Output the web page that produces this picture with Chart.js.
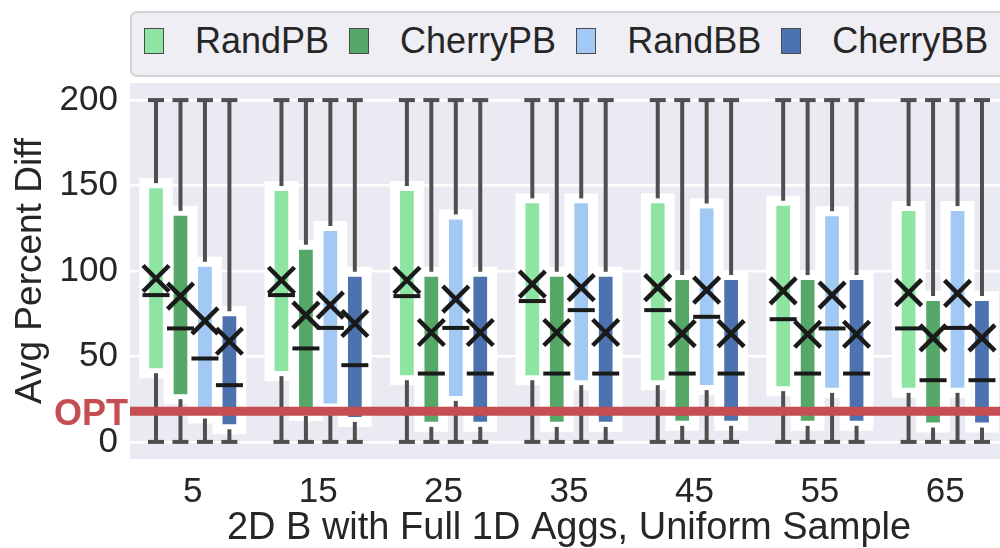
<!DOCTYPE html>
<html>
<head>
<meta charset="utf-8">
<script src="https://cdn.jsdelivr.net/npm/chart.js@4.4.1/dist/chart.umd.min.js"></script>
<style>
  html, body { margin: 0; padding: 0; background: #fff; overflow: hidden; width: 1000px; height: 548px; }
  #wrap { position: relative; width: 1010px; height: 548px; }
  #c { position: absolute; left: 0; top: 0; }
  #legend {
    position: absolute; left: 130px; top: 11px; width: 890px; height: 66px;
    box-sizing: border-box; border: 2px solid #d3d3d6; border-radius: 7px;
    background: #eeeef4; padding: 15px 0 0 12px;
    font: 36px "Liberation Sans", Arial, sans-serif; color: #262626;
    display: flex; align-items: flex-start;
  }
  .item { display: flex; align-items: center; height: 26px; }
  .sw { width: 20px; height: 26px; box-sizing: border-box; border: 1.5px solid #4a4a4a; margin-right: 31px; }
  .lbl { margin-right: 20px; line-height: 26px; white-space: nowrap; }
</style>
</head>
<body>
<div id="wrap">
  <canvas id="c" width="1010" height="548"></canvas>
  <div id="legend"></div>
</div>
<script>
// Category labels (number of buckets) and y tick values
const categories = ['5', '15', '25', '35', '45', '55', '65'];
const yTicks = [0, 50, 100, 150, 200];
const OPT = 18;

const seriesNames = ['RandPB', 'CherryPB', 'RandBB', 'CherryBB'];
const seriesColors = ['#8de5a1', '#55a868', '#a1c9f4', '#4c72b0'];

// RandPB
const randPB_min    = [0, 0, 0, 0, 0, 0, 0];
const randPB_q1     = [40.2, 38.5, 36.1, 36.1, 33.2, 29.7, 28.7];
const randPB_median = [85.9, 85.9, 85.3, 82.4, 77.1, 71.8, 66.4];
const randPB_q3     = [151.4, 149.7, 149.7, 142.5, 142.5, 141.1, 138.0];
const randPB_max    = [200, 200, 200, 200, 200, 200, 200];
const randPB_mean   = [95.6, 94.6, 94.6, 92.3, 90.3, 88.4, 87.4];

// CherryPB
const cherryPB_min    = [0, 0, 0, 0, 0, 0, 0];
const cherryPB_q1     = [25.0, 15.2, 8.8, 8.8, 9.4, 9.4, 8.4];
const cherryPB_median = [66.4, 54.7, 40.0, 40.0, 40.0, 40.0, 36.1];
const cherryPB_q3     = [135.2, 115.3, 99.5, 99.5, 97.6, 97.6, 85.3];
const cherryPB_max    = [200, 200, 200, 200, 200, 200, 200];
const cherryPB_mean   = [85.3, 74.2, 64.0, 64.0, 63.4, 63.0, 60.9];

// RandBB
const randBB_min    = [0, 0, 0, 0, 0, 0, 0];
const randBB_q1     = [13.7, 19.5, 24.0, 33.2, 30.3, 28.7, 28.7];
const randBB_median = [48.8, 66.7, 66.7, 77.1, 73.2, 66.4, 66.7];
const randBB_q3     = [105.4, 126.3, 133.1, 142.5, 139.5, 135.0, 138.0];
const randBB_max    = [200, 200, 200, 200, 200, 200, 200];
const randBB_mean   = [70.8, 80.0, 83.5, 90.3, 88.8, 85.9, 86.9];

// CherryBB
const cherryBB_min    = [0, 0, 0, 0, 0, 0, 0];
const cherryBB_q1     = [7.4, 11.7, 8.8, 8.8, 9.4, 9.4, 8.4];
const cherryBB_median = [33.2, 44.9, 40.0, 40.0, 40.0, 40.0, 36.1];
const cherryBB_q3     = [76.5, 99.5, 99.5, 99.5, 97.6, 97.6, 85.3];
const cherryBB_max    = [200, 200, 200, 200, 200, 200, 200];
const cherryBB_mean   = [58.9, 69.3, 64.0, 64.0, 63.4, 63.0, 60.9];

const seriesStats = [
  { min: randPB_min,   q1: randPB_q1,   median: randPB_median,   q3: randPB_q3,   max: randPB_max,   mean: randPB_mean },
  { min: cherryPB_min, q1: cherryPB_q1, median: cherryPB_median, q3: cherryPB_q3, max: cherryPB_max, mean: cherryPB_mean },
  { min: randBB_min,   q1: randBB_q1,   median: randBB_median,   q3: randBB_q3,   max: randBB_max,   mean: randBB_mean },
  { min: cherryBB_min, q1: cherryBB_q1, median: cherryBB_median, q3: cherryBB_q3, max: cherryBB_max, mean: cherryBB_mean }
];

const FONT = '"Liberation Sans", Arial, sans-serif';
const TEXT = '#262626';
const HALO = 5;

Chart.defaults.font.family = FONT;
Chart.defaults.color = TEXT;

// legend
const legendEl = document.getElementById('legend');
seriesNames.forEach((name, i) => {
  const item = document.createElement('div');
  item.className = 'item';
  const sw = document.createElement('div');
  sw.className = 'sw';
  sw.style.background = seriesColors[i];
  const lbl = document.createElement('span');
  lbl.className = 'lbl';
  lbl.textContent = name;
  item.appendChild(sw);
  item.appendChild(lbl);
  legendEl.appendChild(item);
});

// plot background
const plotBg = {
  id: 'plotBg',
  beforeDraw(chart) {
    const { ctx, chartArea: a } = chart;
    ctx.save();
    ctx.fillStyle = '#eaeaf2';
    ctx.fillRect(a.left, a.top, a.right - a.left, a.bottom - a.top);
    ctx.restore();
  }
};

// box halos, whiskers, medians, means and the OPT reference line
const boxExtras = {
  id: 'boxExtras',
  beforeDatasetsDraw(chart) {
    const ctx = chart.ctx;
    ctx.save();
    ctx.fillStyle = '#ffffff';
    chart.data.datasets.forEach((ds, di) => {
      chart.getDatasetMeta(di).data.forEach(bar => {
        const p = bar.getProps(['x', 'y', 'base', 'width'], true);
        const top = Math.min(p.y, p.base), bot = Math.max(p.y, p.base);
        ctx.fillRect(p.x - p.width / 2 - HALO, top - HALO, p.width + 2 * HALO, bot - top + 2 * HALO);
      });
    });
    ctx.restore();
  },
  afterDatasetsDraw(chart) {
    const ctx = chart.ctx;
    const ys = chart.scales.y;
    const a = chart.chartArea;
    ctx.save();
    const line = (x1, y1, x2, y2) => { ctx.beginPath(); ctx.moveTo(x1, y1); ctx.lineTo(x2, y2); ctx.stroke(); };

    // whiskers + caps
    ctx.strokeStyle = '#4f4f4f';
    ctx.lineWidth = 4;
    ctx.lineCap = 'butt';
    seriesStats.forEach((st, di) => {
      chart.getDatasetMeta(di).data.forEach((bar, i) => {
        const x = bar.x;
        const yMax = ys.getPixelForValue(st.max[i]);
        const yMin = ys.getPixelForValue(st.min[i]);
        line(x, ys.getPixelForValue(st.q3[i]), x, yMax);
        line(x, ys.getPixelForValue(st.q1[i]), x, yMin);
        line(x - 8, yMax, x + 8, yMax);
        line(x - 8, yMin, x + 8, yMin);
      });
    });

    // medians
    ctx.strokeStyle = '#1a1a1a';
    ctx.lineWidth = 4;
    seriesStats.forEach((st, di) => {
      chart.getDatasetMeta(di).data.forEach((bar, i) => {
        const y = ys.getPixelForValue(st.median[i]);
        line(bar.x - 13.5, y, bar.x + 13.5, y);
      });
    });

    // means (x markers)
    ctx.lineWidth = 4.5;
    seriesStats.forEach((st, di) => {
      chart.getDatasetMeta(di).data.forEach((bar, i) => {
        const y = ys.getPixelForValue(st.mean[i]);
        const r = 13;
        line(bar.x - r, y - r, bar.x + r, y + r);
        line(bar.x - r, y + r, bar.x + r, y - r);
      });
    });

    // OPT line
    const yOpt = ys.getPixelForValue(OPT);
    ctx.strokeStyle = '#c44e52';
    ctx.lineWidth = 9;
    line(a.left, yOpt, a.right, yOpt);

    ctx.fillStyle = '#c44e52';
    ctx.font = 'bold 36px ' + FONT;
    ctx.textAlign = 'right';
    ctx.textBaseline = 'middle';
    ctx.fillText('OPT', a.left - 2, yOpt + 4);
    ctx.restore();
  }
};

new Chart(document.getElementById('c'), {
  type: 'bar',
  data: {
    labels: categories,
    datasets: seriesNames.map((name, di) => ({
      label: name,
      data: seriesStats[di].q1.map((v, i) => [v, seriesStats[di].q3[i]]),
      backgroundColor: seriesColors[di],
      borderColor: '#ffffff',
      borderWidth: HALO,
      borderSkipped: false,
      categoryPercentage: 0.78,
      barPercentage: 0.97
    }))
  },
  options: {
    responsive: false,
    animation: false,
    layout: { padding: { top: 83, right: 2, bottom: 0, left: 0 } },
    plugins: { legend: { display: false }, tooltip: { enabled: false } },
    scales: {
      x: {
        grid: { display: false, drawTicks: false },
        border: { display: false },
        ticks: { font: { size: 35 }, color: TEXT, padding: 12, maxRotation: 0 },
        title: {
          display: true, text: '2D B with Full 1D Aggs, Uniform Sample',
          font: { size: 38, lineHeight: 1.0 }, color: TEXT, padding: { top: 0, bottom: 0 }
        },
        afterFit(scale) { scale.height = 89; }
      },
      y: {
        min: -10, max: 210,
        afterBuildTicks(scale) { scale.ticks = yTicks.map(v => ({ value: v })); },
        grid: { color: '#ffffff', lineWidth: 2.5, drawTicks: false },
        border: { display: false },
        ticks: { font: { size: 35 }, color: TEXT, padding: 12 },
        title: {
          display: true, text: 'Avg Percent Diff',
          font: { size: 37 }, color: TEXT, padding: { top: 9, bottom: 0 }
        },
        afterFit(scale) { scale.width = 130; }
      }
    }
  },
  plugins: [plotBg, boxExtras]
});
</script>
</body>
</html>
